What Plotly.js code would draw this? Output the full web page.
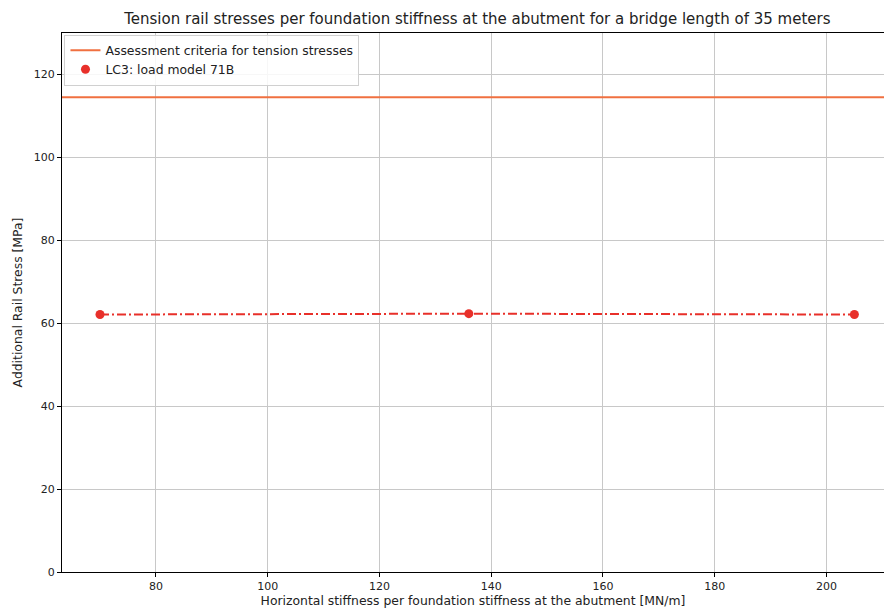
<!DOCTYPE html>
<html>
<head>
<meta charset="utf-8">
<script src="https://cdn.plot.ly/plotly-3.0.1.min.js"></script>
<style>html,body{margin:0;padding:0;background:#fff;overflow:hidden}#chart{width:884px;height:611px}</style>
</head>
<body>
<div id="chart"></div>
<script>
// Data
const stiffness = [70, 136, 205];
const railStress = [62.1, 62.3, 62.1];
const criterionValue = 114.5;
const xRange = [63.2, 210.3];
const yRange = [0, 130];
const xTicks = [80, 100, 120, 140, 160, 180, 200];
const yTicks = [0, 20, 40, 60, 80, 100, 120];
const titleText = "Tension rail stresses per foundation stiffness at the abutment for a bridge length of 35 meters";
const xTitle = "Horizontal stiffness per foundation stiffness at the abutment [MN/m]";
const yTitle = "Additional Rail Stress [MPa]";
const criterionName = "Assessment criteria for tension stresses";
const seriesName = "LC3: load model 71B";

const font = "DejaVu Sans, Verdana, sans-serif";
const orange = "#f07040";
const red = "#e8302a";

const traces = [
  {
    x: xRange,
    y: xRange.map(() => criterionValue),
    mode: "lines",
    name: criterionName,
    line: {color: orange, width: 2},
    hoverinfo: "skip"
  },
  {
    x: stiffness,
    y: railStress,
    mode: "lines",
    showlegend: false,
    line: {color: red, width: 2, dash: "9px,3px,2px,3px"}
  },
  {
    x: stiffness,
    y: railStress,
    mode: "markers",
    name: seriesName,
    marker: {color: red, size: 9}
  }
];

const axisCommon = {
  showline: true, linecolor: "#000", linewidth: 1, mirror: true,
  showgrid: true, gridcolor: "#c8c8c8", gridwidth: 1,
  zeroline: false,
  ticks: "outside", ticklen: 4, tickcolor: "#000", tickwidth: 1,
  tickfont: {family: font, size: 11, color: "#222"}
};

const layout = {
  width: 884, height: 611,
  margin: {l: 62, r: 0, t: 33, b: 39},
  paper_bgcolor: "#fff", plot_bgcolor: "#fff",
  font: {family: font, color: "#222"},
  title: {
    text: titleText,
    font: {family: font, size: 15, color: "#222"},
    x: 0.540, xanchor: "center",
    y: 1 - 19 / 611, yanchor: "middle", yref: "container"
  },
  xaxis: Object.assign({}, axisCommon, {
    range: xRange, tickvals: xTicks, ticktext: xTicks.map(String),
    title: {text: xTitle, font: {family: font, size: 12.4, color: "#222"}, standoff: 4}
  }),
  yaxis: Object.assign({}, axisCommon, {
    range: yRange, tickvals: yTicks, ticktext: yTicks.map(String),
    title: {text: yTitle, font: {family: font, size: 12.4, color: "#222"}, standoff: 8}
  }),
  showlegend: true,
  legend: {
    x: 0.003, y: 0.997, xanchor: "left", yanchor: "top",
    bgcolor: "rgba(255,255,255,0.85)", bordercolor: "#d0d0d0", borderwidth: 1,
    font: {family: font, size: 12.4, color: "#222"},
    itemwidth: 30, tracegroupgap: 0
  }
};

Plotly.newPlot("chart", traces, layout, {staticPlot: true, displayModeBar: false});
</script>
</body>
</html>
